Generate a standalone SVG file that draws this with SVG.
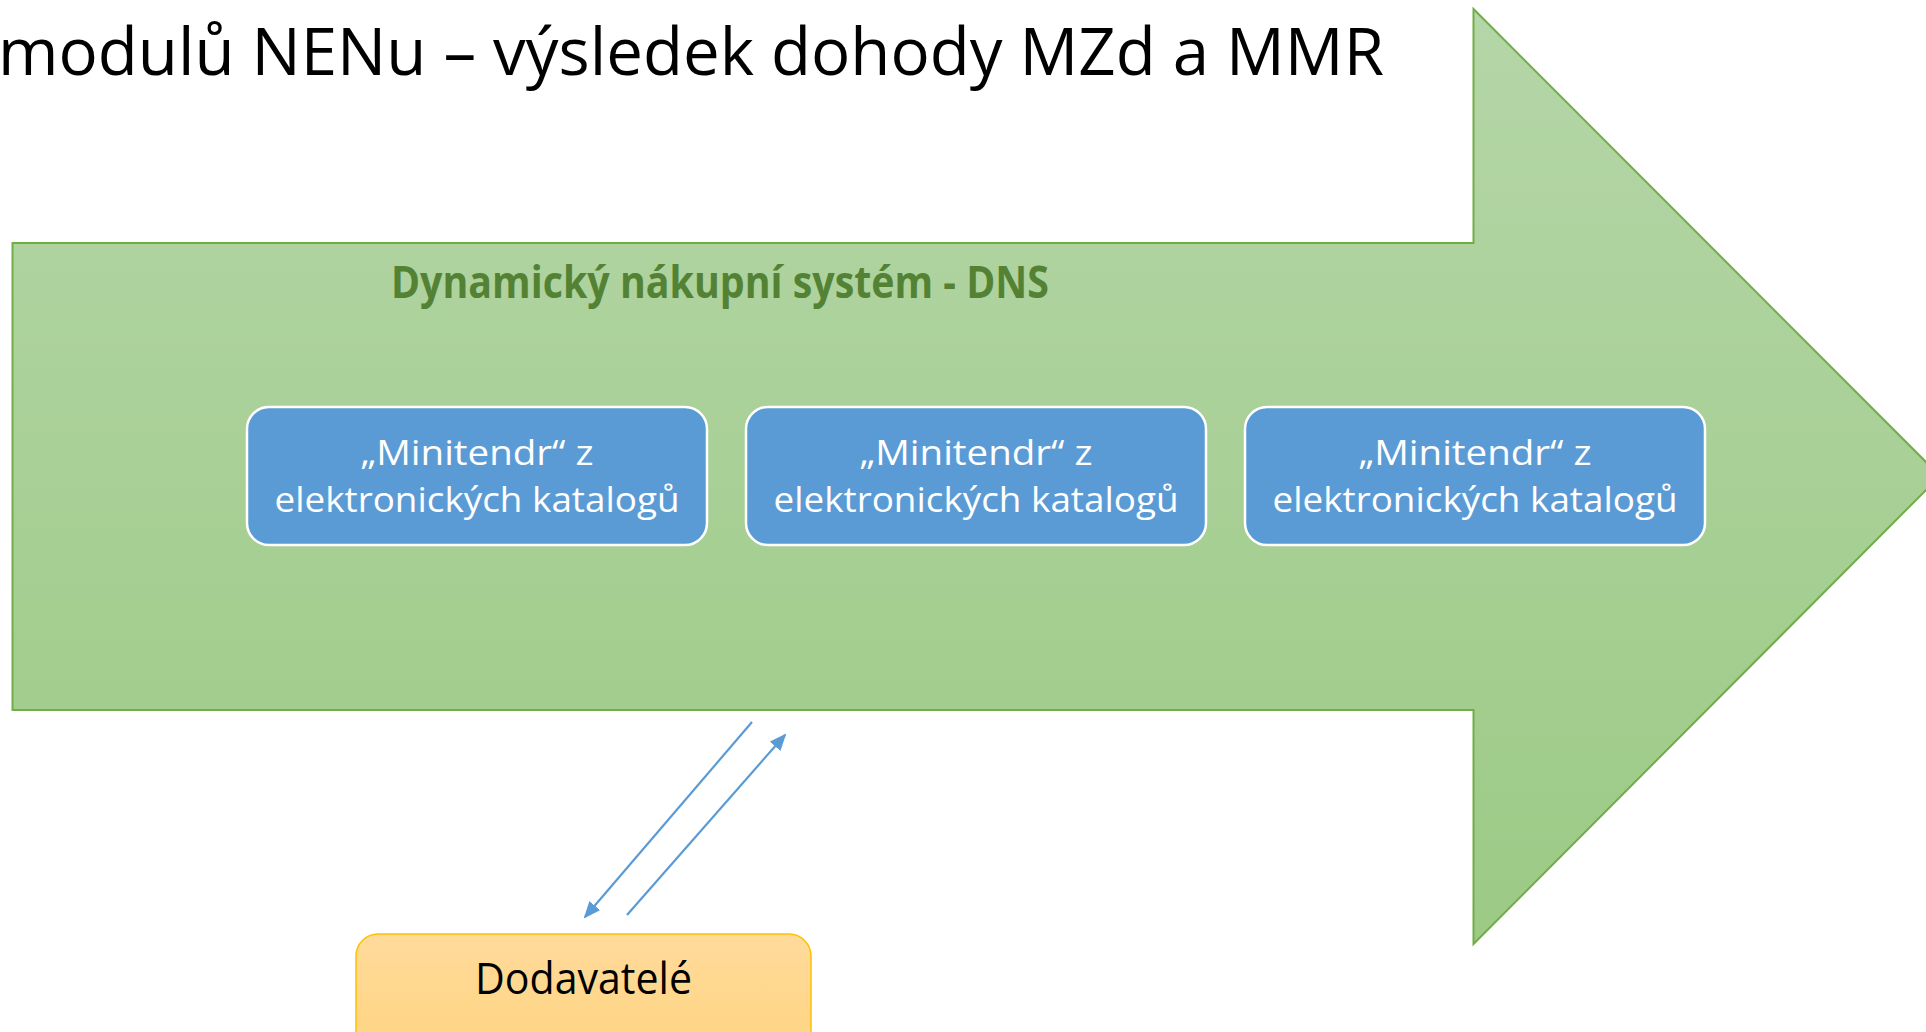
<svg xmlns="http://www.w3.org/2000/svg" width="1926" height="1032" viewBox="0 0 1926 1032">
<style>
.title{font-family:"Open Sans","Noto Sans",sans-serif;font-size:66px;fill:#000}
.dns{font-family:"Open Sans","Noto Sans",sans-serif;font-size:44px;font-weight:bold;fill:#548235}
.box{fill:#5b9bd5;stroke:#ffffff;stroke-width:2.5}
.boxtxt{font-family:"Open Sans","Noto Sans",sans-serif;font-size:35px;fill:#ffffff;text-anchor:middle}
.sup{fill:url(#gOrange);stroke:#ffc000;stroke-width:1.5}
.suptxt{font-family:"Open Sans","Noto Sans",sans-serif;font-size:43px;fill:#000;text-anchor:middle}
.conn{stroke:#5b9bd5;stroke-width:2.2;fill:none;marker-end:url(#ah)}
</style>
<defs>
<linearGradient id="gGreen" x1="0" y1="0" x2="0" y2="1">
<stop offset="0" stop-color="#b5d6a8"/>
<stop offset="1" stop-color="#9cca85"/>
</linearGradient>
<linearGradient id="gOrange" x1="0" y1="0" x2="0" y2="1">
<stop offset="0" stop-color="#ffdb9b"/>
<stop offset="1" stop-color="#ffd47f"/>
</linearGradient>
<marker id="ah" markerWidth="17" markerHeight="14" refX="15" refY="7" orient="auto" markerUnits="userSpaceOnUse">
<path d="M0,0 L17,7 L0,14 Z" fill="#5b9bd5"/>
</marker>
</defs>
<rect width="1926" height="1032" fill="#ffffff"/>
<text class="title" x="-2" y="75" textLength="1386" lengthAdjust="spacingAndGlyphs">modulů NENu – výsledek dohody MZd a MMR</text>
<g id="dns-arrow">
<path d="M12.5,243 L1473.5,243 L1473.5,9 L1940,476 L1473.5,944 L1473.5,710 L12.5,710 Z" fill="url(#gGreen)" stroke="#70ad47" stroke-width="2"/>
<text class="dns" x="391" y="298" textLength="658" lengthAdjust="spacingAndGlyphs">Dynamický nákupní systém - DNS</text>
</g>
<g id="minitendr-1">
<rect class="box" x="247" y="407" width="460" height="138" rx="22"/>
<text class="boxtxt" x="477" y="465" textLength="233" lengthAdjust="spacingAndGlyphs">„Minitendr“ z</text>
<text class="boxtxt" x="477" y="512" textLength="405" lengthAdjust="spacingAndGlyphs">elektronických katalogů</text>
</g>
<g id="minitendr-2">
<rect class="box" x="746" y="407" width="460" height="138" rx="22"/>
<text class="boxtxt" x="976" y="465" textLength="233" lengthAdjust="spacingAndGlyphs">„Minitendr“ z</text>
<text class="boxtxt" x="976" y="512" textLength="405" lengthAdjust="spacingAndGlyphs">elektronických katalogů</text>
</g>
<g id="minitendr-3">
<rect class="box" x="1245" y="407" width="460" height="138" rx="22"/>
<text class="boxtxt" x="1475" y="465" textLength="233" lengthAdjust="spacingAndGlyphs">„Minitendr“ z</text>
<text class="boxtxt" x="1475" y="512" textLength="405" lengthAdjust="spacingAndGlyphs">elektronických katalogů</text>
</g>
<g id="dodavatele">
<rect class="sup" x="356" y="934" width="455" height="130" rx="22"/>
<text class="suptxt" x="583.5" y="994" textLength="217" lengthAdjust="spacingAndGlyphs">Dodavatelé</text>
</g>
<g id="connectors">
<line class="conn" x1="752" y1="722" x2="585" y2="917"/>
<line class="conn" x1="627" y1="915" x2="785" y2="735"/>
</g>
</svg>
